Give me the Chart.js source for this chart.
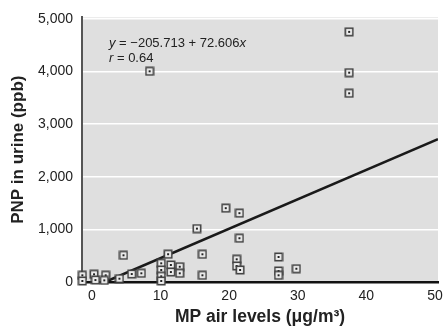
<!DOCTYPE html>
<html>
<head>
<meta charset="utf-8">
<script src="https://cdn.jsdelivr.net/npm/chart.js@4/dist/chart.umd.min.js"></script>
<style>
html,body{margin:0;padding:0;background:#fff;}
#wrap{width:444px;height:329px;position:relative;}
</style>
</head>
<body>
<div id="wrap"><canvas id="c" width="444" height="329"></canvas></div>
<script>
// Data
const airLevels = [-1.4,-1.4,0.3,0.5,2.0,1.8,4.0,4.6,5.8,7.2,8.4,10.1,10.1,10.1,10.1,11.1,11.5,11.5,12.8,12.8,15.3,16.1,16.1,19.5,21.1,21.1,21.5,21.5,21.6,27.2,27.2,27.2,29.8,37.5,37.5,37.5];
const pnpUrine  = [128,20,147,38,128,32,63,508,152,166,4006,356,229,109,20,528,324,190,291,166,1015,527,128,1404,432,305,1309,832,229,476,210,128,253,4756,3980,3587];
const fitLineX = [1.9, 50.45];
const fitLineY = [0, 2715];
const xTicks = [0,10,20,30,40,50];
const yTicks = [0,1000,2000,3000,4000,5000];
const equationText = ["y", " = \u2212205.713 + 72.606", "x"];
const rText = ["r", " = 0.64"];

const FONT = "'Liberation Sans Narrow','Arial Narrow','Liberation Sans',Arial,sans-serif";

// marker: square outline with a centre dot
function makeMarker(){
  const c = document.createElement('canvas');
  c.width = 10; c.height = 10;
  const g = c.getContext('2d');
  g.fillStyle = '#f2f2f2';
  g.fillRect(1,1,8,8);
  g.strokeStyle = '#444';
  g.lineWidth = 1.6;
  g.strokeRect(1.3,1.3,7.4,7.4);
  g.fillStyle = '#222';
  g.fillRect(4,4,2,2);
  return c;
}
const marker = makeMarker();

const bgPlugin = {
  id:'bg',
  beforeDraw(chart){
    const {ctx, chartArea:a} = chart;
    ctx.save();
    ctx.fillStyle = '#dfdfdf';
    ctx.fillRect(a.left, a.top, a.right-a.left, a.bottom-a.top);
    ctx.restore();
  }
};

const eqPlugin = {
  id:'eq',
  afterDatasetsDraw(chart){
    const {ctx} = chart;
    ctx.save();
    ctx.fillStyle = '#222';
    ctx.textBaseline = 'alphabetic';
    const lines = [[equationText, 47],[rText, 62]];
    lines.forEach(([parts, y])=>{
      let x = 109;
      parts.forEach((p)=>{
        const italic = (p.trim().length===1);
        ctx.font = (italic?'italic ':'') + '13px ' + FONT;
        ctx.fillText(p, x, y);
        x += ctx.measureText(p).width;
      });
    });
    ctx.restore();
  }
};

new Chart(document.getElementById('c'), {
  type:'scatter',
  data:{
    datasets:[
      {
        type:'line',
        data: fitLineX.map((x,i)=>({x, y: fitLineY[i]})),
        borderColor:'#1a1a1a',
        borderWidth:2.6,
        pointRadius:0,
        fill:false,
        order:2
      },
      {
        data: airLevels.map((x,i)=>({x, y: pnpUrine[i]})),
        pointStyle: marker,
        pointRadius:5,
        clip:false,
        order:1
      }
    ]
  },
  options:{
    responsive:false,
    animation:false,
    layout:{padding:{top:17,right:4,left:0,bottom:0}},
    plugins:{legend:{display:false}, tooltip:{enabled:false}},
    scales:{
      x:{
        type:'linear',
        min:-1.45, max:50.45,
        afterBuildTicks(s){ s.ticks = xTicks.map(v=>({value:v})); },
        afterFit(s){ s.height = 47; s.paddingLeft = 0; s.paddingRight = 0; },
        grid:{display:false, drawTicks:false},
        border:{display:true, color:'#111', width:2.5},
        ticks:{color:'#222', font:{family:FONT, size:14}, padding:6, maxRotation:0},
        title:{display:true, text:'MP air levels (\u03bcg/m\u00b3)', color:'#222', font:{family:FONT, size:17.5, weight:'bold'}, padding:{top:0,bottom:1}}
      },
      y:{
        type:'linear',
        min:0, max:5030,
        afterBuildTicks(s){ s.ticks = yTicks.map(v=>({value:v})); },
        afterFit(s){ s.width = 82; },
        grid:{color:(c)=> c.tick && c.tick.value===0 ? 'rgba(0,0,0,0)' : '#ffffff', lineWidth:1.5, drawTicks:false},
        border:{display:true, color:'#555', width:2},
        ticks:{color:'#222', font:{family:FONT, size:14}, padding:9, callback:(v)=>v.toLocaleString('en-US')},
        title:{display:true, text:'PNP in urine (ppb)', color:'#222', font:{family:FONT, size:17, weight:'bold'}, padding:{top:8,bottom:0}}
      }
    }
  },
  plugins:[bgPlugin, eqPlugin]
});
</script>
</body>
</html>
